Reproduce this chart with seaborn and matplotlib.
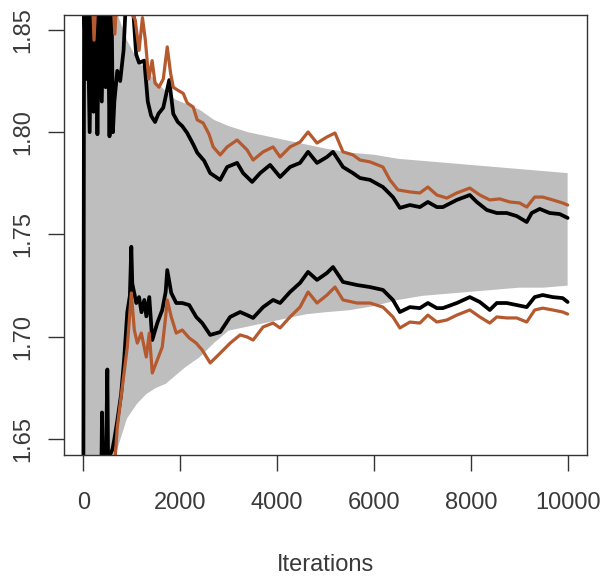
import matplotlib
matplotlib.use("Agg")
import matplotlib.pyplot as plt
import seaborn as sns

# band (grey envelope)
band_x = [0, 300, 500, 700, 900, 1100, 1300, 1500, 1700, 1900, 2100, 2400, 2700,
          3000, 3400, 3800, 4200, 4600, 5000, 5500, 6000, 6500, 7000, 7500, 8000,
          8500, 9000, 9500, 10000]
band_hi = [1.95, 1.93, 1.90, 1.858, 1.845, 1.836, 1.830, 1.825, 1.820, 1.816, 1.814,
           1.811, 1.806, 1.803, 1.800, 1.798, 1.796, 1.794, 1.792, 1.790, 1.789,
           1.787, 1.786, 1.785, 1.784, 1.783, 1.782, 1.781, 1.780]
band_lo = [1.55, 1.58, 1.62, 1.645, 1.660, 1.667, 1.672, 1.675, 1.677, 1.681, 1.685,
           1.690, 1.697, 1.703, 1.705, 1.707, 1.709, 1.711, 1.712, 1.713, 1.715,
           1.718, 1.720, 1.721, 1.722, 1.723, 1.724, 1.724, 1.725]

# black upper
bu_x = [0, 15, 50, 80, 130, 170, 210, 250, 290, 330, 380, 420, 460, 500, 540, 580,
        610, 640, 700, 760, 830, 890, 1000, 1090, 1150, 1258, 1330, 1400, 1480, 1550,
        1650, 1773, 1856, 1950, 2041, 2144, 2270, 2351, 2495, 2619, 2825, 2969, 3175,
        3299, 3485, 3650, 3856, 4062, 4268, 4474, 4640, 4825, 5031, 5155, 5361, 5567,
        5712, 5918, 6186, 6392, 6536, 6743, 6949, 7114, 7299, 7423, 7712, 7980, 8124,
        8330, 8537, 8743, 8949, 9155, 9258, 9423, 9629, 9835, 10000]
bu_y = [1.63, 1.87, 1.826, 1.87, 1.80, 1.87, 1.81, 1.87, 1.799, 1.87, 1.815, 1.87,
        1.822, 1.87, 1.798, 1.87, 1.80, 1.815, 1.83, 1.825, 1.84, 1.87, 1.87, 1.838,
        1.834, 1.835, 1.815, 1.808, 1.805, 1.809, 1.812, 1.8255, 1.809, 1.805, 1.803,
        1.7996, 1.794, 1.790, 1.786, 1.780, 1.7767, 1.783, 1.785, 1.780, 1.7757, 1.780,
        1.784, 1.7781, 1.783, 1.785, 1.7904, 1.785, 1.7879, 1.7904, 1.783, 1.780,
        1.7776, 1.7767, 1.7732, 1.7683, 1.763, 1.7644, 1.7634, 1.7659, 1.7634, 1.7634,
        1.7669, 1.7693, 1.7659, 1.762, 1.7605, 1.7605, 1.759, 1.7561, 1.7605, 1.7625,
        1.7605, 1.760, 1.7581]

# brown upper
ru_x = [0, 180, 220, 270, 600, 650, 700, 1070, 1150, 1220, 1280, 1350, 1420, 1480,
        1560, 1650, 1732, 1800, 1856, 1938, 2062, 2144, 2268, 2351, 2474, 2595, 2681,
        2825, 2969, 3175, 3382, 3505, 3712, 3918, 4062, 4268, 4474, 4640, 4825, 5031,
        5196, 5361, 5567, 5712, 5918, 6186, 6330, 6495, 6743, 6949, 7114, 7299, 7506,
        7712, 7980, 8186, 8392, 8598, 8805, 9011, 9155, 9320, 9485, 9691, 9898, 10000]
ru_y = [1.87, 1.87, 1.845, 1.87, 1.87, 1.848, 1.87, 1.855, 1.84, 1.856, 1.845, 1.826,
        1.835, 1.824, 1.822, 1.826, 1.8417, 1.829, 1.822, 1.8207, 1.819, 1.8143,
        1.8123, 1.806, 1.8045, 1.799, 1.7928, 1.7889, 1.7928, 1.7962, 1.7913, 1.7864,
        1.7904, 1.7928, 1.7879, 1.7928, 1.7952, 1.8001, 1.7947, 1.7977, 1.7996,
        1.7904, 1.7889, 1.7864, 1.7855, 1.783, 1.7767, 1.7718, 1.7708, 1.7703,
        1.7732, 1.7693, 1.7678, 1.7703, 1.7727, 1.7693, 1.7669, 1.7674, 1.7659,
        1.7654, 1.7634, 1.7683, 1.7683, 1.7669, 1.7654, 1.7644]

# black lower
bl_x = [0, 370, 385, 400, 470, 495, 510, 600, 640, 701, 780, 845, 907, 960, 990,
        1010, 1093, 1150, 1200, 1258, 1300, 1361, 1423, 1526, 1629, 1700, 1732, 1815,
        1918, 2041, 2186, 2330, 2454, 2619, 2825, 3031, 3237, 3382, 3505, 3712, 3918,
        4062, 4268, 4474, 4640, 4825, 5031, 5155, 5361, 5650, 5918, 6186, 6392, 6536,
        6743, 6949, 7114, 7299, 7423, 7712, 7980, 8186, 8392, 8537, 8743, 8949, 9155,
        9320, 9485, 9691, 9898, 10000]
bl_y = [1.63, 1.63, 1.663, 1.64, 1.645, 1.684, 1.64, 1.645, 1.65, 1.659, 1.672,
        1.690, 1.712, 1.72, 1.744, 1.726, 1.7165, 1.7194, 1.712, 1.718, 1.71, 1.7194,
        1.6984, 1.7067, 1.7131, 1.722, 1.7326, 1.7214, 1.7165, 1.7165, 1.7155,
        1.7097, 1.7067, 1.7009, 1.7023, 1.7097, 1.7121, 1.7106, 1.7092, 1.7145,
        1.718, 1.7165, 1.7219, 1.7263, 1.7317, 1.7278, 1.7312, 1.7341, 1.7268,
        1.7253, 1.7243, 1.7229, 1.718, 1.7121, 1.7145, 1.714, 1.7165, 1.714, 1.714,
        1.7165, 1.7194, 1.717, 1.7131, 1.7165, 1.7165, 1.7155, 1.7145, 1.7194,
        1.7204, 1.7194, 1.7189, 1.717]

# brown lower
rl_x = [0, 600, 640, 701, 804, 907, 990, 1052, 1114, 1196, 1299, 1361, 1423, 1526,
        1629, 1700, 1732, 1815, 1918, 2041, 2186, 2330, 2454, 2619, 2825, 3031, 3237,
        3382, 3505, 3712, 3918, 4062, 4268, 4474, 4640, 4825, 5031, 5196, 5361, 5650,
        5918, 6186, 6392, 6536, 6743, 6949, 7114, 7299, 7506, 7712, 7980, 8186, 8392,
        8537, 8743, 8949, 9155, 9320, 9485, 9691, 9898, 10000]
rl_y = [1.63, 1.63, 1.635, 1.656, 1.6754, 1.695, 1.7214, 1.7033, 1.6969, 1.7018,
        1.6901, 1.7018, 1.6823, 1.6886, 1.695, 1.710, 1.718, 1.7097, 1.7018, 1.7033,
        1.6994, 1.6969, 1.6935, 1.6872, 1.692, 1.6969, 1.7009, 1.6999, 1.6984,
        1.7048, 1.7067, 1.7043, 1.7097, 1.7145, 1.7219, 1.7165, 1.7204, 1.7243,
        1.718, 1.7165, 1.7165, 1.7145, 1.7097, 1.7043, 1.7072, 1.7067, 1.7106,
        1.7072, 1.7082, 1.7106, 1.7131, 1.7097, 1.7067, 1.7097, 1.7092, 1.7092,
        1.7072, 1.7131, 1.714, 1.7131, 1.7121, 1.7111]

xticks = [0, 2000, 4000, 6000, 8000, 10000]
yticks = [1.65, 1.70, 1.75, 1.80, 1.85]
ytick_labels = ["1.65", "1.70", "1.75", "1.80", "1.85"]

sns.set_theme(style="white")
plt.rcParams["font.family"] = ["Liberation Sans", "DejaVu Sans"]

fig = plt.figure(figsize=(6, 5.77), dpi=100)
ax = fig.add_axes([64 / 600, 1 - 455 / 577, 523 / 600, 440 / 577])

ax.fill_between(band_x, band_lo, band_hi, color="#bebebe", lw=0)

brown = "#b5592f"
for xs, ys, col, w in [(bu_x, bu_y, "black", 2.7), (bl_x, bl_y, "black", 2.7),
                       (ru_x, ru_y, brown, 2.3), (rl_x, rl_y, brown, 2.3)]:
    sns.lineplot(x=xs, y=ys, color=col, lw=w, ax=ax, sort=False, estimator=None)

ax.set_xlim(-400, 10400)
ax.set_ylim(1.6422, 1.8573)
ax.set_xticks(xticks)
ax.set_xticklabels([str(t) for t in xticks])
ax.set_yticks(yticks)
ax.set_yticklabels(ytick_labels, rotation=90, va="center")
ax.tick_params(axis="both", which="major", direction="out", length=11.5, width=1,
               color="#333333", labelsize=17, labelcolor="#3a3a3a",
               left=True, bottom=True)
ax.tick_params(axis="x", pad=15)
ax.tick_params(axis="y", pad=10)
for s in ax.spines.values():
    s.set_color("#333333")
    s.set_linewidth(1)

ax.set_xlabel("Iterations", fontsize=17, color="#3a3a3a")
ax.xaxis.set_label_coords(0.5, -0.25)
ax.xaxis.label.set_va("center")
ax.set_ylabel("")

fig.savefig("out.png", dpi=100)
